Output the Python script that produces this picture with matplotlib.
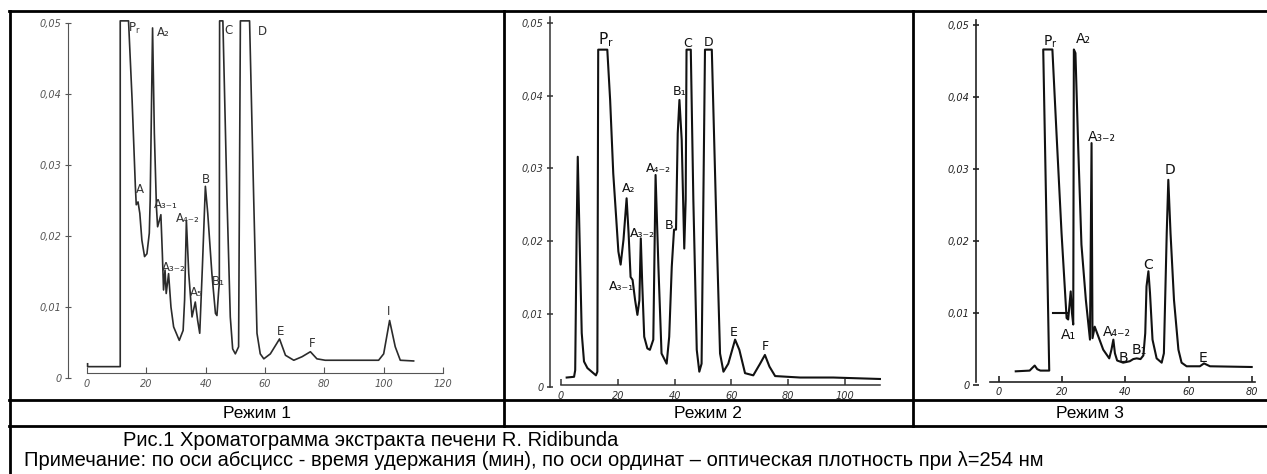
import matplotlib.pyplot as plt

W, H = 1267, 474

# Режим 1: время (мин) и оптическая плотность
t1 = [0.2, 0.2, 11.2, 11.2, 14.0, 15.2, 16.3, 16.6, 17.2, 17.8, 18.5, 19.4, 20.2, 21.0,
      21.3, 22.1, 22.7, 23.4, 23.8, 24.4, 24.9, 25.4, 25.8, 26.3, 26.7, 27.5, 28.3, 29.2,
      31.1, 32.4, 32.9, 33.5, 34.3, 35.4, 36.5, 37.3, 38.0, 38.9, 39.9, 40.7, 42.1, 43.3,
      43.8, 44.4, 44.6, 44.7, 45.8, 47.2, 48.3, 49.1, 50.0, 51.1, 51.7, 54.8, 56.2, 57.3,
      58.4, 59.6, 61.8, 64.9, 66.9, 69.7, 72.5, 75.3, 77.5, 80.3, 98.3, 100.0, 102.0,
      103.9, 105.6, 110.1]
v1 = [0.0020, 0.0016, 0.0016, 0.0503, 0.0503, 0.0392, 0.0270, 0.0244, 0.0248, 0.0232,
      0.0194, 0.0171, 0.0175, 0.0204, 0.0251, 0.0493, 0.0345, 0.0241, 0.0213, 0.0222,
      0.0230, 0.0175, 0.0124, 0.0152, 0.0119, 0.0147, 0.0100, 0.0072, 0.0053, 0.0067,
      0.0110, 0.0222, 0.0147, 0.0086, 0.0107, 0.0081, 0.0063, 0.0157, 0.0270, 0.0232,
      0.0147, 0.0091, 0.0088, 0.0124, 0.0133, 0.0503, 0.0503, 0.0251, 0.0086, 0.0041,
      0.0034, 0.0044, 0.0503, 0.0503, 0.0251, 0.0063, 0.0034, 0.0027, 0.0034, 0.0055,
      0.0032, 0.0025, 0.0030, 0.0037, 0.0027, 0.0025, 0.0025, 0.0034, 0.0081, 0.0044,
      0.0025, 0.0024]
lab1 = ["P$_\\mathregular{r}$", "A\u2082", "C", "D", "A", "A\u2083\u208b\u2081",
        "A\u2084\u208b\u2082", "B", "A\u2083\u208b\u2082", "A\u2085", "B\u2081", "E", "F", "I"]
lab1_t = [15.8, 25.8, 47.8, 59.0, 18.0, 26.6, 34.0, 40.2, 29.2, 36.7, 44.4, 65.2, 75.8, 101.7]
lab1_v = [0.0492, 0.0486, 0.0490, 0.0488, 0.0265, 0.0245, 0.0225, 0.0280, 0.0155,
          0.0120, 0.0136, 0.0065, 0.0048, 0.0093]

# Режим 2
t2 = [2.0, 4.6, 5.0, 5.5, 5.9, 6.5, 7.3, 8.1, 9.3, 10.8, 12.3, 12.8, 13.1, 16.3, 17.3,
      18.4, 19.4, 20.2, 21.0, 22.0, 23.1, 23.8, 24.5, 25.2, 26.1, 26.9, 27.6, 28.1, 28.6,
      29.3, 30.4, 31.3, 32.5, 33.3, 34.3, 35.4, 37.2, 38.1, 39.0, 39.8, 40.5, 41.1, 41.7,
      42.5, 43.4, 43.9, 44.2, 45.7, 46.6, 47.8, 48.7, 49.5, 50.7, 53.1, 54.8, 56.0, 57.2,
      58.9, 61.3, 62.8, 64.8, 67.7, 70.1, 71.8, 73.4, 75.4, 84.2, 95.9, 112.3]
v2 = [0.0013, 0.0014, 0.0023, 0.0211, 0.0316, 0.0211, 0.0074, 0.0035, 0.0026, 0.0021,
      0.0016, 0.0021, 0.0463, 0.0463, 0.0394, 0.0293, 0.0234, 0.0186, 0.0168, 0.0202,
      0.0259, 0.0211, 0.0151, 0.0147, 0.0119, 0.0099, 0.0119, 0.0204, 0.0142, 0.0069,
      0.0053, 0.0051, 0.0065, 0.0291, 0.0165, 0.0046, 0.0032, 0.0069, 0.0165, 0.0216,
      0.0216, 0.0348, 0.0394, 0.0339, 0.0190, 0.0257, 0.0463, 0.0463, 0.0257, 0.0051,
      0.0021, 0.0032, 0.0463, 0.0463, 0.0211, 0.0046, 0.0021, 0.0032, 0.0065, 0.0051,
      0.0019, 0.0016, 0.0032, 0.0044, 0.0028, 0.0015, 0.0013, 0.0013, 0.0011]
lab2 = ["P$_\\mathregular{r}$", "C", "D", "B\u2081", "A\u2084\u208b\u2082", "A\u2082",
        "A\u2083\u208b\u2082", "B", "A\u2083\u208b\u2081", "E", "F"]
lab2_t = [15.8, 44.5, 51.9, 41.9, 34.3, 23.7, 28.8, 38.0, 21.4, 60.7, 72.1]
lab2_v = [0.0477, 0.0471, 0.0473, 0.0405, 0.0300, 0.0273, 0.0211, 0.0222, 0.0138,
          0.0075, 0.0055]

# Режим 3
t3 = [5.3, 9.7, 10.6, 11.3, 12.1, 13.1, 15.9, 14.0, 16.9, 18.2, 19.8, 21.4, 21.9, 22.7,
      23.1, 23.5, 23.7, 24.2, 25.1, 26.1, 27.5, 28.8, 29.3, 29.6, 30.3, 31.4, 33.0, 34.9,
      35.6, 36.2, 36.7, 37.4, 39.3, 41.4, 42.5, 43.6, 44.8, 45.7, 46.3, 46.7, 47.3, 47.8,
      48.6, 49.9, 51.5, 52.2, 53.1, 53.6, 54.3, 55.4, 56.8, 57.8, 59.4, 63.6, 64.9, 66.8,
      80.0]
v3 = [0.0019, 0.0020, 0.0024, 0.0027, 0.0022, 0.0020, 0.0020, 0.0466, 0.0466, 0.0350,
      0.0211, 0.0093, 0.0091, 0.0130, 0.0100, 0.0084, 0.0466, 0.0461, 0.0327, 0.0195,
      0.0118, 0.0063, 0.0336, 0.0065, 0.0081, 0.0068, 0.0049, 0.0037, 0.0049, 0.0063,
      0.0044, 0.0034, 0.0031, 0.0033, 0.0036, 0.0037, 0.0036, 0.0041, 0.0072, 0.0137,
      0.0158, 0.0128, 0.0063, 0.0037, 0.0031, 0.0044, 0.0211, 0.0285, 0.0211, 0.0118,
      0.0049, 0.0031, 0.0026, 0.0026, 0.0030, 0.0026, 0.0025]
stub3_t = [17.1, 21.4]
stub3_v = [0.0100, 0.0100]
lab3 = ["P$_\\mathregular{r}$", "A\u2082", "A\u2083\u208b\u2082", "D", "C", "A\u2081",
        "A\u2084\u208b\u2082", "B", "B\u2081", "E"]
lab3_t = [16.1, 26.6, 32.5, 54.1, 47.3, 21.9, 37.2, 39.5, 44.4, 64.7]
lab3_v = [0.0477, 0.0480, 0.0345, 0.0299, 0.0167, 0.0070, 0.0074, 0.0037, 0.0049, 0.0037]

y_ticks = [0, 0.01, 0.02, 0.03, 0.04, 0.05]
y_tick_labels = ["0", "0,01", "0,02", "0,03", "0,04", "0,05"]
modes = ["Режим 1", "Режим 2", "Режим 3"]
caption1 = "Рис.1 Хроматограмма экстракта печени R. Ridibunda"
caption2 = ("Примечание: по оси абсцисс - время удержания (мин), по оси ординат \u2013 "
            "оптическая плотность при \u03bb=254 нм")

fig = plt.figure(figsize=(W / 100, H / 100), dpi=100)

# рамка таблицы
frame = fig.add_axes([0, 0, 1, 1])
frame.set_xlim(0, W)
frame.set_ylim(H, 0)
frame.axis("off")
lw = 2.0
frame.plot([9, W], [11, 11], color="k", lw=lw)
frame.plot([9.5, 9.5], [11, H], color="k", lw=lw)
frame.plot([9, W], [400, 400], color="k", lw=lw)
frame.plot([9, W], [426, 426], color="k", lw=lw)
frame.plot([504, 504], [11, 426], color="k", lw=lw)
frame.plot([913, 913], [11, 426], color="k", lw=lw)
for xc, m in zip([257, 708, 1090], modes):
    frame.text(xc, 413, m, ha="center", va="center", fontsize=12.5, family="Liberation Sans")
frame.text(123, 440, caption1, ha="left", va="center", fontsize=14.5, family="Liberation Sans")
frame.text(24, 461, caption2, ha="left", va="center", fontsize=14.5, family="Liberation Sans")


def panel(box, xref, yref, yaxis_px, xaxis_px, xbounds, ybounds):
    l, t, r, b = box
    ax = fig.add_axes([l / W, 1 - b / H, (r - l) / W, (b - t) / H])
    ax.patch.set_alpha(0)
    (px1, a1), (px2, a2) = xref
    sx = (a2 - a1) / (px2 - px1)
    ax.set_xlim(a1 + (l - px1) * sx, a1 + (r - px1) * sx)
    (py1, b1), (py2, b2) = yref
    sy = (b2 - b1) / (py2 - py1)
    ax.set_ylim(b1 + (b - py1) * sy, b1 + (t - py1) * sy)
    ax.spines["top"].set_visible(False)
    ax.spines["right"].set_visible(False)
    ax.spines["left"].set_position(("data", a1 + (yaxis_px - px1) * sx))
    ax.spines["bottom"].set_position(("data", b1 + (xaxis_px - py1) * sy))
    ax.spines["left"].set_bounds(*ybounds)
    ax.spines["bottom"].set_bounds(*xbounds)
    return ax


def style(ax, color, width, xticks):
    for s in ("left", "bottom"):
        ax.spines[s].set_color(color)
        ax.spines[s].set_linewidth(width)
    ax.set_yticks(y_ticks, y_tick_labels)
    ax.set_xticks(xticks, [str(x) for x in xticks])
    ax.tick_params(axis="y", direction="inout", length=5, width=width, colors=color,
                   labelsize=7, pad=2)
    ax.tick_params(axis="x", direction="in", length=4, width=width, colors=color,
                   labelsize=7, pad=4)
    for lab in ax.get_xticklabels() + ax.get_yticklabels():
        lab.set_fontstyle("italic")


ax1 = panel((15, 14, 495, 396), ((87, 0), (443, 120)), ((378, 0), (23, 0.05)),
            68, 373, (0, 120), (0, 0.05))
ax1.plot(t1, v1, color="#2b2b2b", lw=1.2)
style(ax1, "#555555", 0.8, [0, 20, 40, 60, 80, 100, 120])
for s, x, y in zip(lab1, lab1_t, lab1_v):
    ax1.text(x, y, s, ha="center", va="center", fontsize=8.5, color="#333333")

ax2 = panel((508, 14, 908, 396), ((561, 0), (845, 100)), ((387, 0), (22.7, 0.05)),
            550, 385, (0, 112.3), (0, 0.0508))
ax2.plot(t2, v2, color="#111111", lw=1.5)
style(ax2, "#333333", 1.1, [0, 20, 40, 60, 80, 100])
for s, x, y in zip(lab2, lab2_t, lab2_v):
    ax2.text(x, y, s, ha="center", va="center", fontsize=11 if s.startswith("P") else 9,
             color="#111111")

ax3 = panel((917, 14, 1265, 396), ((999, 0), (1251.7, 80)), ((385, 0), (25, 0.05)),
            975.7, 381.7, (-2.8, 81), (0.0004, 0.0507))
ax3.plot(t3, v3, color="#111111", lw=1.5)
ax3.plot(stub3_t, stub3_v, color="#111111", lw=1.5)
style(ax3, "#222222", 1.2, [0, 20, 40, 60, 80])
for s, x, y in zip(lab3, lab3_t, lab3_v):
    ax3.text(x, y, s, ha="center", va="center", fontsize=10, color="#111111")

fig.savefig("out.png", dpi=100)
